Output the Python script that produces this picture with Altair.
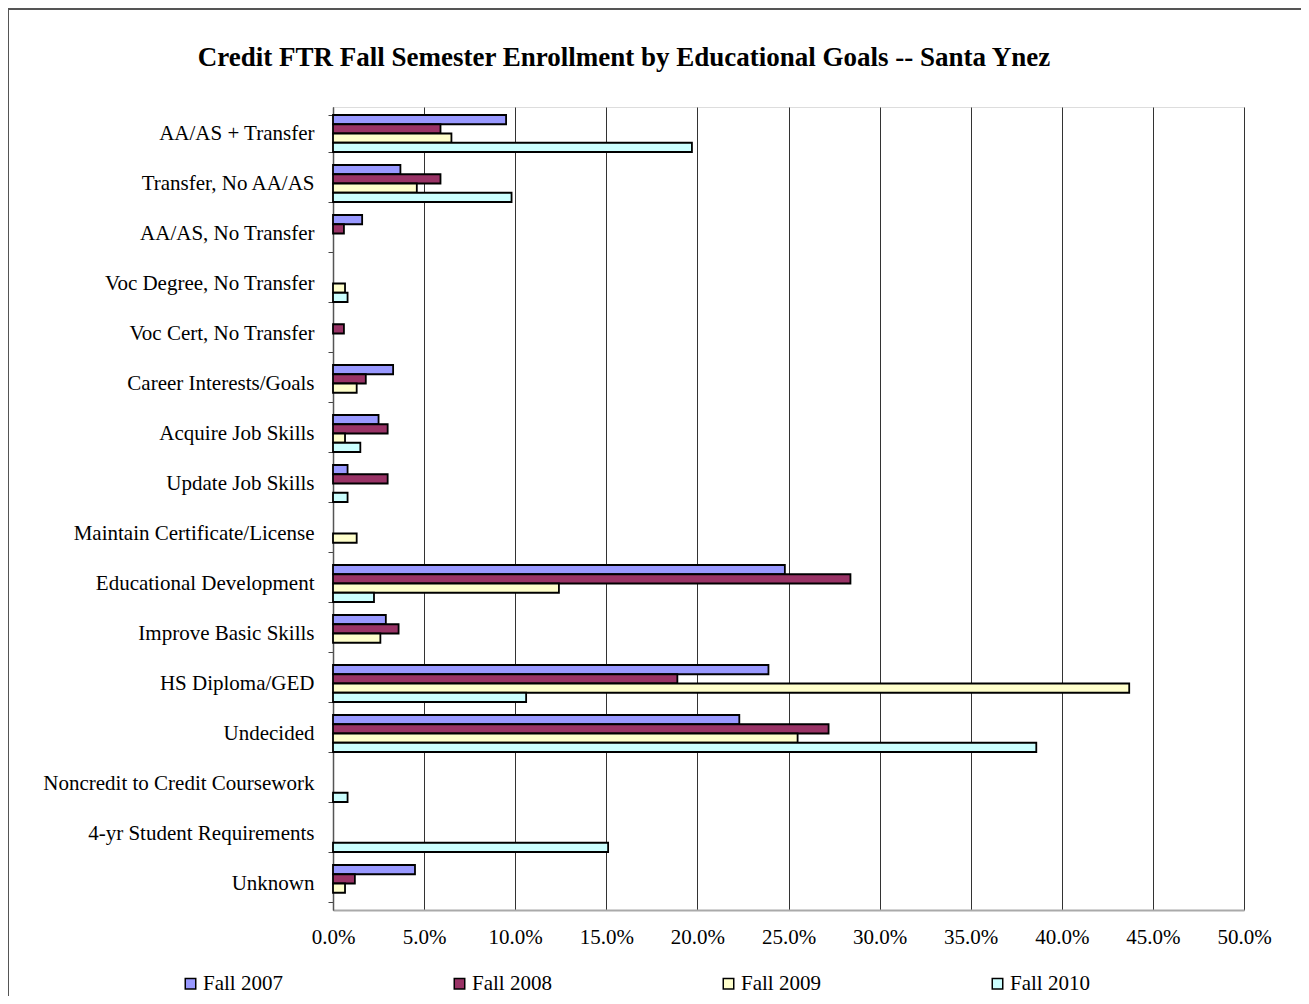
import altair as alt
import pandas as pd

categories = [
    "AA/AS + Transfer", "Transfer, No AA/AS", "AA/AS, No Transfer",
    "Voc Degree, No Transfer", "Voc Cert, No Transfer", "Career Interests/Goals",
    "Acquire Job Skills", "Update Job Skills", "Maintain Certificate/License",
    "Educational Development", "Improve Basic Skills", "HS Diploma/GED",
    "Undecided", "Noncredit to Credit Coursework", "4-yr Student Requirements",
    "Unknown",
]
series = ["Fall 2007", "Fall 2008", "Fall 2009", "Fall 2010"]
colors = ["#9999FF", "#993366", "#FFFFCC", "#CCFFFF"]
title_text = "Credit FTR Fall Semester Enrollment by Educational Goals -- Santa Ynez"

# percent values per category (0 = no bar)
fall2007 = [9.5, 3.7, 1.6, 0, 0, 3.3, 2.5, 0.8, 0, 24.8, 2.9, 23.9, 22.3, 0, 0, 4.5]
fall2008 = [5.9, 5.9, 0.6, 0, 0.6, 1.8, 3.0, 3.0, 0, 28.4, 3.6, 18.9, 27.2, 0, 0, 1.2]
fall2009 = [6.5, 4.6, 0, 0.66, 0, 1.3, 0.66, 0, 1.3, 12.4, 2.6, 43.7, 25.5, 0, 0, 0.66]
fall2010 = [19.7, 9.8, 0, 0.8, 0, 0, 1.5, 0.8, 0, 2.25, 0, 10.6, 38.6, 0.8, 15.1, 0]

rows = []
for s, vals in zip(series, [fall2007, fall2008, fall2009, fall2010]):
    for c, v in zip(categories, vals):
        if v > 0:
            rows.append({"Goal": c, "Semester": s, "Value": v / 100.0})
df = pd.DataFrame(rows)

FONT = "Liberation Serif"

bars = alt.Chart(df).mark_bar(stroke="black", strokeWidth=1.8).encode(
    y=alt.Y("Goal:N", sort=categories,
            scale=alt.Scale(domain=categories, paddingInner=0.26, paddingOuter=0.16),
            axis=alt.Axis(title=None, labelFont=FONT, labelFontSize=21, labelColor="black",
                          labelPadding=14, tickBand="extent", tickSize=5, tickColor="#444",
                          domainColor="#555", domainWidth=1.5, labelLimit=400)),
    yOffset=alt.YOffset("Semester:N", sort=series,
                        scale=alt.Scale(domain=series, paddingInner=0, paddingOuter=0)),
    x=alt.X("Value:Q",
            scale=alt.Scale(domain=[0, 0.5], nice=False),
            axis=alt.Axis(title=None, format=".1%", values=[i * 0.05 for i in range(11)],
                          labelFont=FONT, labelFontSize=21, labelColor="black",
                          labelFlush=False, labelOverlap=False,
                          labelPadding=16, ticks=False, grid=True, gridColor="#333",
                          gridWidth=1, domainColor="#aaa", domainWidth=2)),
    color=alt.Color("Semester:N", sort=series,
                    scale=alt.Scale(domain=series, range=colors),
                    legend=alt.Legend(title=None, orient="none", direction="horizontal",
                                      legendX=-153, legendY=866, columns=4, padding=0,
                                      symbolType="square", symbolSize=110,
                                      symbolStrokeColor="black", symbolStrokeWidth=1.5,
                                      labelFont=FONT, labelFontSize=21, labelColor="black",
                                      columnPadding=166, labelOffset=2)),
)

title = alt.Chart(pd.DataFrame({"t": [title_text]})).mark_text(
    font=FONT, fontSize=27, fontWeight="bold", color="black", align="center", baseline="middle"
).encode(x=alt.value(291), y=alt.value(-49), text="t:N")

border = alt.Chart(pd.DataFrame({"a": [0]})).mark_rule(color="#555", strokeWidth=2, clip=False).encode(
    x=alt.value(-325), x2=alt.value(968), y=alt.value(-98)
)
border2 = alt.Chart(pd.DataFrame({"a": [0]})).mark_rule(color="#555", strokeWidth=2, clip=False).encode(
    x=alt.value(-325), y=alt.value(-98), y2=alt.value(890)
)

chart = alt.layer(bars, title, border, border2).properties(
    width=911, height=803,
    autosize=alt.AutoSizeParams(type="none"),
    padding={"left": 325, "top": 99, "right": 57, "bottom": 86},
).configure_view(stroke="#888", strokeWidth=1).configure(background="white")

chart.save("out.html", embed_options={"renderer": "svg", "actions": False})
